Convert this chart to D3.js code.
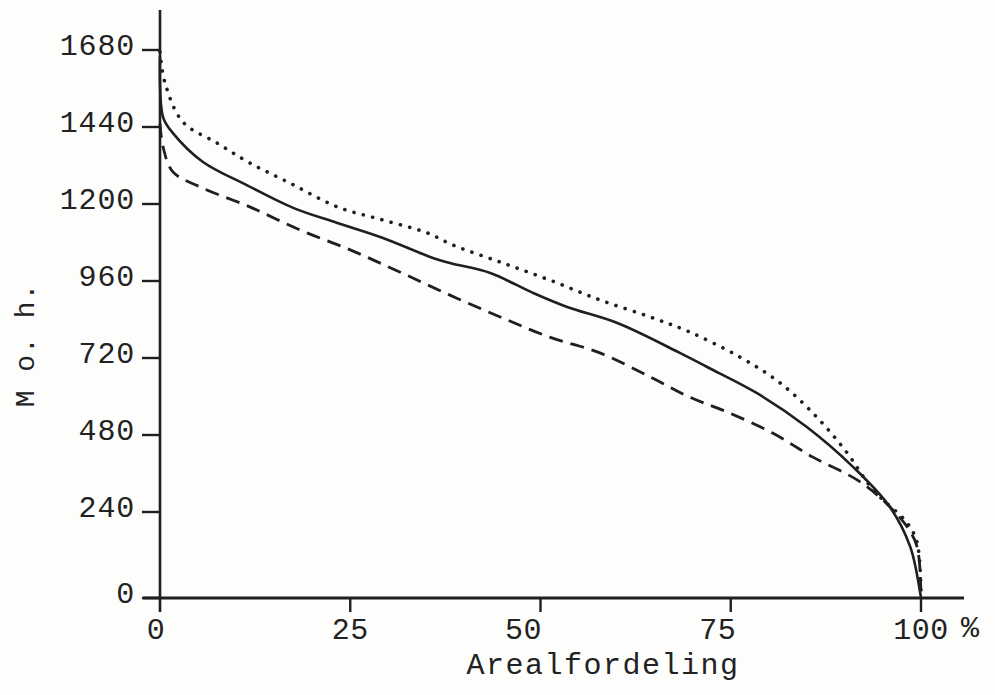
<!DOCTYPE html>
<html>
<head>
<meta charset="utf-8">
<script src="https://cdn.jsdelivr.net/npm/d3@7"></script>
<style>
  html, body { margin: 0; padding: 0; background: #fdfdfb; }
  svg { display: block; }
  text { font-family: "Liberation Mono", "DejaVu Sans Mono", monospace; fill: #222; }
</style>
</head>
<body>
<script>
// ---- data ----
const xTicks = [0, 25, 50, 75, 100];
const yTicks = [0, 240, 480, 720, 960, 1200, 1440, 1680];
const xTitle = "Arealfordeling";
const yTitle = "M o. h.";

// solid curve
const solidX = [0, 0.4, 1.7, 5.65, 11.4, 17.5, 23.3, 29.3, 35.5, 38.1, 43.4, 49.0, 53.5, 60.1, 68.3, 71.9, 78.4, 85.0, 91.1, 95.9, 98.6, 99.9, 100];
const solidY = [1660, 1471, 1421, 1331, 1259, 1188, 1141, 1094, 1035, 1016, 985, 923, 879, 829, 736, 692, 611, 505, 380, 256, 142, 14, 0];
// dotted curve
const dottedX = [0, 0.66, 3.0, 7.5, 11.8, 17.1, 23.3, 29.3, 35.1, 38.5, 44.7, 51.2, 57.8, 64.4, 69.6, 76.2, 81.5, 86.3, 90.3, 93.7, 98.2, 99.5, 100];
const dottedY = [1674, 1577, 1456, 1390, 1328, 1265, 1191, 1150, 1110, 1072, 1019, 963, 901, 848, 801, 723, 642, 536, 424, 309, 209, 153, 0];
// dashed curve
const dashedX = [0, 0.4, 1.7, 5.3, 11.8, 18.4, 25.0, 31.5, 38.1, 44.7, 51.2, 57.8, 64.4, 69.6, 74.5, 80.5, 85.8, 91.6, 95.0, 98.2, 99.5, 100];
const dashedY = [1450, 1378, 1300, 1253, 1191, 1119, 1057, 988, 916, 848, 785, 736, 661, 598, 552, 486, 411, 340, 277, 198, 142, 0];

// ---- chart ----
const W = 995, H = 695;
const ink = "#1f1f1f";
const svg = d3.select("body").append("svg").attr("width", W).attr("height", H);

const x = d3.scaleLinear().domain([0, 100]).range([160, 921]);
// hand-drawn axis: the first interval is slightly longer than the rest
const y = d3.scaleLinear().domain([0, 240, 1680]).range([598, 512, 50]);

// axis lines
svg.append("line").attr("x1", 160).attr("x2", 160).attr("y1", 10).attr("y2", 612)
  .attr("stroke", ink).attr("stroke-width", 2.6);
svg.append("line").attr("x1", 143).attr("x2", 964).attr("y1", y(0)).attr("y2", y(0))
  .attr("stroke", ink).attr("stroke-width", 2.8);

// y ticks + labels
const yg = svg.append("g");
yTicks.forEach(v => {
  yg.append("line").attr("x1", 142).attr("x2", 160).attr("y1", y(v)).attr("y2", y(v))
    .attr("stroke", ink).attr("stroke-width", 2.4);
  yg.append("text").attr("x", 135).attr("y", y(v) + 5)
    .attr("text-anchor", "end").attr("font-size", 30).attr("letter-spacing", 0.8)
    .text(v);
});

// x ticks + labels
const xLabelShift = {0: -4, 25: 0, 50: -17, 75: -13, 100: 0};
xTicks.forEach(v => {
  if (v > 0) {
    svg.append("line").attr("x1", x(v)).attr("x2", x(v)).attr("y1", y(0)).attr("y2", y(0) + 14)
      .attr("stroke", ink).attr("stroke-width", 2.4);
  }
  svg.append("text").attr("x", x(v) + xLabelShift[v]).attr("y", 639)
    .attr("text-anchor", "middle").attr("font-size", 30).attr("letter-spacing", 0.5)
    .text(v);
});
svg.append("text").attr("x", 970).attr("y", 637).attr("text-anchor", "middle")
  .attr("font-size", 30).text("%");

// titles
svg.append("text").attr("x", 603).attr("y", 674).attr("text-anchor", "middle")
  .attr("font-size", 30).attr("letter-spacing", 1.5).text(xTitle);
svg.append("text").attr("transform", "translate(34,345) rotate(-90)")
  .attr("text-anchor", "middle").attr("font-size", 28).attr("letter-spacing", 1).text(yTitle);

// curves
const line = d3.line().x(d => x(d[0])).y(d => y(d[1])).curve(d3.curveCatmullRom.alpha(0.5));
const zip = (a, b) => a.map((v, i) => [v, b[i]]);

svg.append("path").datum(zip(dashedX, dashedY)).attr("d", line)
  .attr("fill", "none").attr("stroke", ink).attr("stroke-width", 2.8)
  .attr("stroke-dasharray", "14,8");
svg.append("path").datum(zip(dottedX, dottedY)).attr("d", line)
  .attr("fill", "none").attr("stroke", ink).attr("stroke-width", 3.6)
  .attr("stroke-linecap", "round").attr("stroke-dasharray", "0.1,9.5");
svg.append("path").datum(zip(solidX, solidY)).attr("d", line)
  .attr("fill", "none").attr("stroke", ink).attr("stroke-width", 2.6);
</script>
</body>
</html>
